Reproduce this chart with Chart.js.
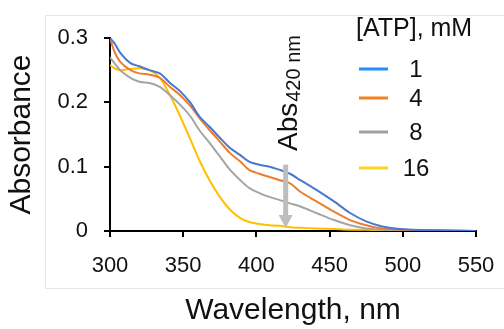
<!DOCTYPE html>
<html>
<head>
<meta charset="utf-8">
<script src="https://cdn.jsdelivr.net/npm/chart.js@4"></script>
<style>
  html, body { margin: 0; padding: 0; background: #fff; }
  #wrap { width: 504px; height: 329px; }
</style>
</head>
<body>
<div id="wrap"><canvas id="chartAbs"></canvas></div>
<script>
// spectra
const wavelength = [300, 303, 307, 314, 320, 327, 334, 341, 348, 355, 361, 368, 375, 382, 389, 395, 402, 409, 416, 423, 430, 441, 453, 464, 475, 486, 498, 520, 550];
const atp1  = [0.300, 0.292, 0.277, 0.261, 0.256, 0.250, 0.245, 0.230, 0.217, 0.199, 0.178, 0.162, 0.145, 0.129, 0.118, 0.108, 0.103, 0.100, 0.095, 0.089, 0.079, 0.064, 0.046, 0.028, 0.015, 0.007, 0.003, 0.001, 0.000];
const atp4  = [0.300, 0.279, 0.263, 0.250, 0.245, 0.243, 0.238, 0.224, 0.211, 0.194, 0.176, 0.157, 0.139, 0.121, 0.108, 0.095, 0.089, 0.084, 0.079, 0.074, 0.061, 0.046, 0.030, 0.017, 0.009, 0.004, 0.002, 0.001, 0.000];
const atp8  = [0.270, 0.261, 0.250, 0.238, 0.232, 0.230, 0.224, 0.211, 0.196, 0.178, 0.157, 0.137, 0.116, 0.095, 0.079, 0.067, 0.059, 0.053, 0.048, 0.043, 0.038, 0.028, 0.017, 0.009, 0.004, 0.002, 0.001, 0.001, 0.000];
const atp16 = [0.258, 0.253, 0.250, 0.252, 0.253, 0.250, 0.238, 0.211, 0.178, 0.142, 0.110, 0.079, 0.053, 0.033, 0.020, 0.014, 0.011, 0.009, 0.008, 0.006, 0.005, 0.004, 0.003, 0.002, 0.002, 0.001, 0.001, 0.001, 0.000];

const serieLabels = ['1', '4', '8', '16'];
const xTicks = [300, 350, 400, 450, 500, 550];
const yTicks = [0, 0.1, 0.2, 0.3];
const arrowAt = 420;
const arrowFrom = 0.1;

const CORES = {
    linhas: ['#4a78cf', '#ed7d31', '#a5a5a5', '#ffc000'],
    legenda: ['#1f8fff', '#f5801e', '#a0a0a0', '#ffd21e'],
    seta: '#bdbdbd'
};

const FONTE = '"Liberation Sans", Arial, sans-serif';

function pontos(ys) {
    return wavelength.map((x, i) => ({ x: x, y: ys[i] }));
}

// moldura, legenda, seta e rotulo Abs420 nm
const extras = {
    id: 'extras',
    beforeDraw(chart) {
        const ctx = chart.ctx;
        ctx.save();
        ctx.strokeStyle = '#e6e6e6';
        ctx.lineWidth = 1;
        ctx.strokeRect(45.5, 15.5, 520, 273);
        ctx.restore();
    },
    afterDraw(chart) {
        const ctx = chart.ctx;
        const xs = chart.scales.x, ys = chart.scales.y;
        ctx.save();

        // seta cinza em 420 nm
        const ax = xs.getPixelForValue(arrowAt);
        const top = ys.getPixelForValue(arrowFrom) - 2;
        const tip = ys.getPixelForValue(0) - 3;
        ctx.strokeStyle = CORES.seta;
        ctx.fillStyle = CORES.seta;
        ctx.lineWidth = 5;
        ctx.beginPath();
        ctx.moveTo(ax, top);
        ctx.lineTo(ax, tip - 12);
        ctx.stroke();
        ctx.beginPath();
        ctx.moveTo(ax - 7, tip - 13);
        ctx.lineTo(ax + 7, tip - 13);
        ctx.lineTo(ax, tip);
        ctx.closePath();
        ctx.fill();

        // Abs420 nm vertical
        ctx.fillStyle = '#111';
        ctx.translate(297, 151);
        ctx.rotate(-Math.PI / 2);
        ctx.textBaseline = 'alphabetic';
        ctx.textAlign = 'left';
        ctx.font = '28px ' + FONTE;
        ctx.fillText('Abs', 0, 0);
        const w = ctx.measureText('Abs').width;
        ctx.font = '20px ' + FONTE;
        ctx.fillText('420 nm', w + 1, 3);
        ctx.restore();

        // legenda
        ctx.save();
        ctx.fillStyle = '#111';
        ctx.font = '25px ' + FONTE;
        ctx.textAlign = 'left';
        ctx.textBaseline = 'alphabetic';
        ctx.fillText('[ATP], mM', 356, 36);
        const linhasY = [69, 98, 132, 168];
        ctx.font = '24px ' + FONTE;
        ctx.textAlign = 'center';
        ctx.textBaseline = 'middle';
        serieLabels.forEach((lab, i) => {
            ctx.strokeStyle = CORES.legenda[i];
            ctx.lineWidth = 3;
            ctx.beginPath();
            ctx.moveTo(359, linhasY[i]);
            ctx.lineTo(388, linhasY[i]);
            ctx.stroke();
            ctx.fillStyle = '#111';
            ctx.fillText(lab, 416, linhasY[i] + 1);
        });
        ctx.restore();
    }
};

const ctx = document.getElementById('chartAbs').getContext('2d');
new Chart(ctx, {
    type: 'line',
    data: {
        datasets: [atp1, atp4, atp8, atp16].map((d, i) => ({
            label: serieLabels[i],
            data: pontos(d),
            borderColor: CORES.linhas[i],
            borderWidth: 2,
            pointRadius: 0,
            tension: 0.3,
            fill: false
        }))
    },
    options: {
        responsive: true,
        maintainAspectRatio: false,
        animation: false,
        layout: { padding: { left: 0, top: 38, right: 28, bottom: 0 } },
        plugins: {
            legend: { display: false },
            tooltip: { enabled: false }
        },
        scales: {
            x: {
                type: 'linear',
                min: 300,
                max: 550,
                afterBuildTicks: s => { s.ticks = xTicks.map(v => ({ value: v })); },
                afterFit: s => { s.height = 98; s.paddingLeft = 0; s.paddingRight = 0; },
                grid: { drawOnChartArea: false, drawTicks: true, tickLength: 6, color: '#000', lineWidth: 2 },
                border: { color: '#000', width: 2 },
                ticks: { color: '#111', padding: 16, maxRotation: 0, font: { family: FONTE, size: 22 } },
                title: { display: true, text: 'Wavelength, nm', color: '#111', padding: { top: 0, bottom: 0 }, font: { family: FONTE, size: 30 } }
            },
            y: {
                min: 0,
                max: 0.3,
                afterBuildTicks: s => { s.ticks = yTicks.map(v => ({ value: v })); },
                afterFit: s => { s.width = 110; s.paddingTop = 0; s.paddingBottom = 0; },
                grid: { drawOnChartArea: false, drawTicks: true, tickLength: 6, color: '#000', lineWidth: 2 },
                border: { color: '#000', width: 2 },
                ticks: { color: '#111', padding: 16, font: { family: FONTE, size: 22 } },
                title: { display: true, text: 'Absorbance', color: '#111', padding: { top: 4, bottom: 0 }, font: { family: FONTE, size: 30 } }
            }
        }
    },
    plugins: [extras]
});
</script>
</body>
</html>
